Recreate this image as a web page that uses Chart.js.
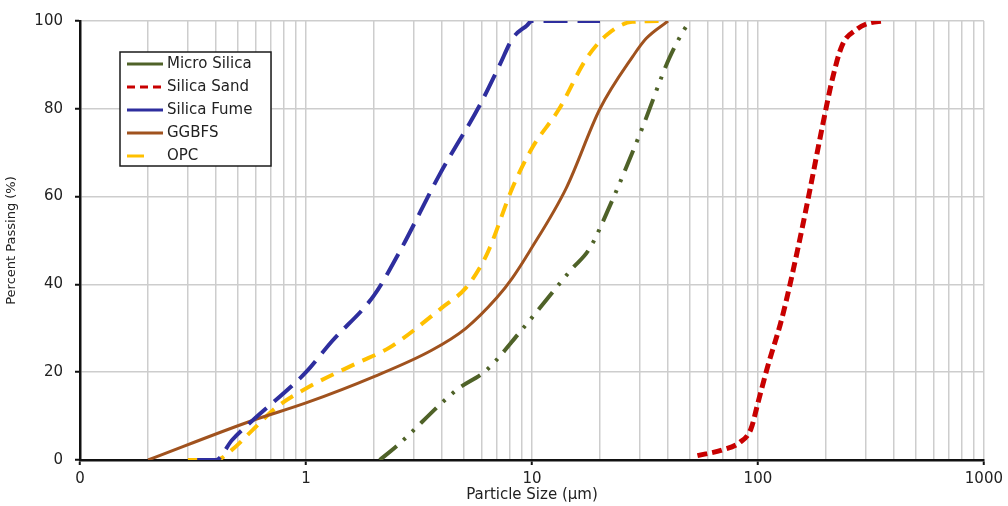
<!DOCTYPE html>
<html>
<head>
<meta charset="utf-8">
<title>Particle size distribution</title>
<script src="https://cdn.jsdelivr.net/npm/chart.js@4.4.1/dist/chart.umd.min.js"></script>
<style>
  html, body { margin: 0; padding: 0; background: #fff; }
  #wrap { width: 1008px; height: 506px; }
</style>
</head>
<body>
<div id="wrap"><canvas id="psdChart" width="1008" height="506"></canvas></div>
<script>
// particle size (µm) vs percent passing, one pair of arrays per material
const seriesNames = ["Micro Silica", "Silica Sand", "Silica Fume", "GGBFS", "OPC"];

const microSilicaSize = [2.12, 2.5, 4.65, 6.3, 8.8, 15, 17.9, 22.6, 30.7, 40.5, 46.5, 50];
const microSilicaPassing = [0, 3, 16, 20.5, 29, 43.5, 48, 59, 75.5, 91.5, 97.5, 100];

const silicaSandSize = [54, 69.5, 83, 93, 100, 110, 128, 150, 169, 192, 214, 236, 272, 309, 360];
const silicaSandPassing = [1, 2.3, 4, 7, 13, 21, 32.5, 48, 61, 75.5, 87, 94.5, 98, 99.5, 100];

const silicaFumeSize = [0.33, 0.4, 0.47, 0.58, 0.85, 1, 1.3, 2, 2.6, 3.9, 5.9, 7.2, 8.2, 9.5, 10, 20];
const silicaFumePassing = [0, 0, 4.5, 9, 16.5, 20, 27, 37.5, 47.5, 65, 81, 90, 96, 99, 100, 100];

const ggbfsSize = [0.2, 0.58, 1, 2, 3.6, 5.1, 7, 8.2, 9.75, 14.2, 20, 28, 32, 40];
const ggbfsPassing = [0, 9, 13, 19, 25, 30, 37, 41.5, 47.5, 62, 80, 92, 96, 100];

const opcSize = [0.3, 0.4, 0.47, 0.58, 0.74, 1, 1.67, 2.34, 4.0, 5.1, 6.0, 6.5, 8.2, 10, 13.2, 17.4, 21.4, 27.8, 38.6];
const opcPassing = [0, 0, 2.3, 6.8, 12, 16.3, 22, 25.6, 34.7, 39.2, 44.6, 48.3, 62, 71, 80, 91.4, 96.8, 99.8, 100];

// axis ticks
const xMajorTicks = [0.1, 1, 10, 100, 1000];
const xTickLabels = ["0", "1", "10", "100", "1000"];
const yTicks = [0, 20, 40, 60, 80, 100];

const FONT = "'DejaVu Sans', sans-serif";

function toPoints(sizes, passing) {
  return sizes.map((s, i) => ({ x: s, y: passing[i] }));
}

// gridlines at every 1..9 step of each decade
const xGridValues = [];
xMajorTicks.slice(0, -1).forEach((decade) => {
  for (let m = 1; m <= 9; m++) xGridValues.push(+(decade * m).toPrecision(3));
});
xGridValues.push(xMajorTicks[xMajorTicks.length - 1]);

function isMajorX(v) {
  return xMajorTicks.some((t) => Math.abs(t - v) < 1e-9);
}

// legend samples (Excel-style: mostly solid, sand dashed, OPC one short dash)
const legendSamples = [
  { dash: [], len: 36 },
  { dash: [8, 5], len: 36 },
  { dash: [], len: 36 },
  { dash: [], len: 36 },
  { dash: [], len: 17 },
];

const legendBox = {
  id: "legendBox",
  afterDraw(chart) {
    const ctx = chart.ctx;
    const area = chart.chartArea;
    const bx = area.left + 40;
    const by = area.top + 31;
    ctx.save();
    ctx.fillStyle = "#fff";
    ctx.fillRect(bx, by, 151, 114);
    ctx.strokeStyle = "#1a1a1a";
    ctx.lineWidth = 1.5;
    ctx.strokeRect(bx, by, 151, 114);
    ctx.font = "15px " + FONT;
    ctx.textBaseline = "middle";
    chart.data.datasets.forEach((ds, i) => {
      const y = by + 12 + i * 23;
      ctx.strokeStyle = ds.borderColor;
      ctx.lineWidth = 3;
      ctx.setLineDash(legendSamples[i].dash);
      ctx.beginPath();
      ctx.moveTo(bx + 7, y);
      ctx.lineTo(bx + 7 + legendSamples[i].len, y);
      ctx.stroke();
      ctx.setLineDash([]);
      ctx.fillStyle = "#222";
      ctx.fillText(ds.label, bx + 47, y);
    });
    ctx.restore();
  },
};

const ctx = document.getElementById("psdChart");

new Chart(ctx, {
  type: "line",
  data: {
    datasets: [
      {
        label: seriesNames[0],
        data: toPoints(microSilicaSize, microSilicaPassing),
        borderColor: "#4f6228",
        borderWidth: 4,
        borderDash: [22, 9, 3, 9, 3, 9],
      },
      {
        label: seriesNames[1],
        data: toPoints(silicaSandSize, silicaSandPassing),
        borderColor: "#c80000",
        borderWidth: 5,
        borderDash: [10, 5],
      },
      {
        label: seriesNames[2],
        data: toPoints(silicaFumeSize, silicaFumePassing),
        borderColor: "#2e2e9e",
        borderWidth: 4,
        borderDash: [24, 10],
      },
      {
        label: seriesNames[3],
        data: toPoints(ggbfsSize, ggbfsPassing),
        borderColor: "#a0521e",
        borderWidth: 3,
      },
      {
        label: seriesNames[4],
        data: toPoints(opcSize, opcPassing),
        borderColor: "#ffc000",
        borderWidth: 4,
        borderDash: [14, 9],
      },
    ],
  },
  options: {
    responsive: false,
    animation: false,
    cubicInterpolationMode: "monotone",
    elements: { point: { radius: 0 } },
    layout: { padding: { top: 19, right: 23, bottom: 0, left: 0 } },
    plugins: {
      legend: { display: false },
      tooltip: { enabled: false },
    },
    scales: {
      x: {
        type: "logarithmic",
        min: 0.1,
        max: 1000,
        afterBuildTicks: (scale) => {
          scale.ticks = xGridValues.map((v) => ({ value: v, major: isMajorX(v) }));
        },
        afterFit: (scale) => {
          scale.height = 46;
        },
        ticks: {
          autoSkip: false,
          maxRotation: 0,
          padding: 5,
          color: "#222",
          font: { family: FONT, size: 15 },
          callback: (value) => {
            const i = xMajorTicks.findIndex((t) => Math.abs(t - value) < 1e-9);
            return i >= 0 ? xTickLabels[i] : "";
          },
        },
        grid: {
          color: "#cdcdcd",
          lineWidth: 1.5,
          tickLength: 5,
          tickColor: (c) => (c.tick && isMajorX(c.tick.value) ? "#111" : "rgba(0,0,0,0)"),
          tickWidth: 2,
        },
        border: { color: "#111", width: 2.5 },
        title: {
          display: true,
          text: "Particle Size (µm)",
          color: "#222",
          font: { family: FONT, size: 15 },
          padding: { top: 0, bottom: 2 },
        },
      },
      y: {
        min: 0,
        max: 100,
        afterBuildTicks: (scale) => {
          scale.ticks = yTicks.map((v) => ({ value: v }));
        },
        afterFit: (scale) => {
          scale.width = 80;
        },
        ticks: {
          padding: 12,
          color: "#222",
          font: { family: FONT, size: 15 },
        },
        grid: {
          color: "#cdcdcd",
          lineWidth: 1.5,
          tickLength: 5,
          tickColor: "#111",
          tickWidth: 2,
        },
        border: { color: "#111", width: 2.5 },
        title: {
          display: true,
          text: "Percent Passing (%)",
          color: "#222",
          font: { family: FONT, size: 13 },
          padding: { top: 4, bottom: 0 },
        },
      },
    },
  },
  plugins: [legendBox],
});
</script>
</body>
</html>
